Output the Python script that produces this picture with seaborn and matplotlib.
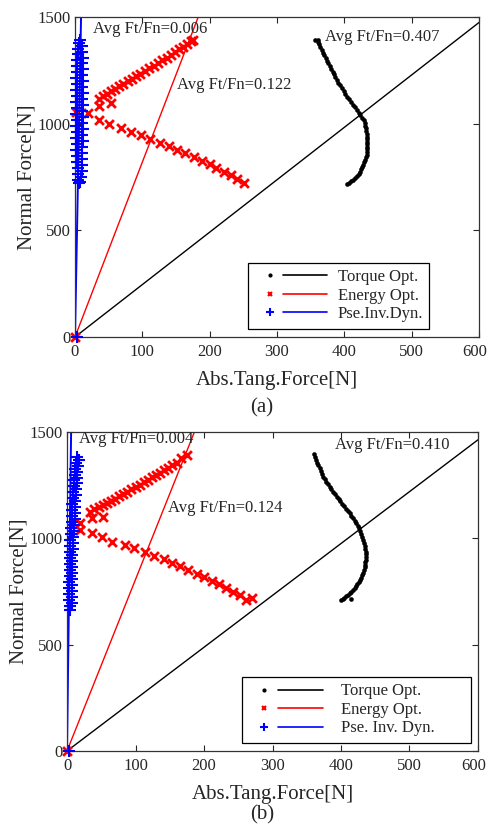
import matplotlib
matplotlib.use("Agg")
import matplotlib.pyplot as plt
import seaborn as sns
import pandas as pd
from matplotlib.legend_handler import HandlerBase
from matplotlib.lines import Line2D
from matplotlib.transforms import ScaledTranslation

# ---------------- data: panel (a) ----------------
torque_a_x = [357, 361, 361, 362.5, 364.5, 366.5, 368.5, 370.5, 372.5, 374.5, 376.4,
              378.5, 380.5, 382.5, 384.5, 386.7, 388.8, 391.3, 393.8, 396.3, 398.8,
              401.2, 403.7, 406.7, 409.7, 412.7, 415.6, 418.6, 421.3, 423.8, 426.2,
              428.5, 430, 431.2, 432, 432.7, 433.1, 433.4, 433.8, 434.2, 434.4, 434.4,
              434.2, 433.7, 433, 432, 431, 429.8, 428.3, 426.6, 425, 423.5, 421.3,
              418.9, 416.3, 413.6, 410.6, 407.6, 404.7]
torque_a_y = [1390, 1393, 1384, 1372, 1358, 1345, 1333, 1320, 1308, 1296, 1283,
              1270, 1257, 1244, 1231, 1218, 1205, 1192, 1179, 1166, 1153,
              1140, 1127, 1114, 1102, 1089, 1076, 1064, 1052, 1040, 1028,
              1017, 1004, 991, 978, 965, 952, 939, 927, 915, 903, 892,
              880, 867, 855, 842, 830, 819, 808, 797, 786, 775, 765,
              755, 745, 736, 729, 722, 717]

energy_a_x = [0, 36, 42, 48, 54, 60, 66, 72, 78, 85, 91, 97, 104, 110, 117, 123, 129,
              136, 142, 148, 154, 160, 166, 172, 175,
              1, 20, 36, 54,
              35, 51, 68, 83, 98, 112, 126, 139, 151, 164, 176, 188, 200, 210,
              221, 231, 241, 251]
energy_a_y = [0, 1116, 1129, 1141, 1152, 1163, 1175, 1186, 1198, 1210, 1222, 1234, 1247,
              1259, 1272, 1284, 1297, 1310, 1323, 1336, 1349, 1361, 1373, 1386, 1392,
              1054, 1052, 1082, 1097,
              1017, 999, 981, 962, 947, 927, 911, 895, 877, 861, 845, 827, 811, 794,
              775, 759, 741, 723]

pse_a_x = [3, 8, 6, 10, 5, 11, 4, 12, 3, 11, 3, 12, 3, 11, 2, 12, 3, 11, 2, 12, 3,
           11, 2, 12, 3, 11, 2, 12, 3, 11, 2, 12, 3, 11, 2, 12, 3, 11, 2, 11, 3,
           11, 3, 10, 4, 10, 4, 9, 5, 8, 6]
pse_a_y = [0, 1392, 1379, 1366, 1352, 1338, 1325, 1310, 1297, 1283, 1268, 1255, 1241,
           1226, 1212, 1199, 1184, 1170, 1157, 1142, 1128, 1114, 1100, 1086, 1072,
           1058, 1044, 1030, 1016, 1002, 988, 974, 960, 946, 932, 918, 904, 890,
           876, 862, 848, 834, 820, 806, 792, 778, 764, 750, 736, 727, 720]

ratio_a = {"torque": 0.407, "energy": 0.122, "pse": 0.006}

# ---------------- data: panel (b) ----------------
torque_b_x = [360.5, 362, 363.7, 365.4, 367, 368.8, 370.5, 372.2, 374,
              376.3, 378.7, 381.1, 383.5, 386, 388.5, 391, 393.6,
              396.4, 399.1, 401.9, 404.7, 407.5, 410.2, 413,
              415.3, 417.6, 419.9, 422.1, 424.4, 426.6,
              428, 429.5, 430.9, 432.4, 433.8,
              434.6, 435.4, 436, 436.3, 436.3,
              436, 435.6, 435, 434.5, 433.8,
              432.5, 431.3, 429.3, 427.6,
              425.7, 423.9, 422, 420,
              417.6, 415.3, 412.9, 410.5,
              407.7, 405, 402.2, 399.4, 414]
torque_b_y = [1396, 1383, 1370, 1356, 1343, 1330, 1316, 1303, 1290,
              1278, 1267, 1255, 1243, 1231, 1220, 1208, 1196,
              1185, 1174, 1163, 1151, 1140, 1129, 1118,
              1106, 1094, 1083, 1071, 1059, 1047,
              1033, 1019, 1004, 990, 976,
              963, 950, 938, 925, 913,
              900, 888, 876, 864, 851,
              839, 827, 815, 804,
              794, 784, 775, 765,
              757, 749, 741, 733,
              727, 721, 716, 710, 715]

energy_b_x = [0, 34, 40, 46, 52, 58, 64, 70, 76, 82, 88, 94, 100, 106, 112, 118, 124,
              130, 136, 142, 148, 154, 160, 167, 175,
              19, 19, 36, 53,
              36, 51, 66, 84, 98, 114, 127, 141, 153, 165, 177, 190, 200, 211,
              222, 232, 242, 252, 261, 270]
energy_b_y = [0, 1125, 1136, 1146, 1156, 1166, 1176, 1187, 1198, 1209, 1220, 1231,
              1242, 1253, 1265, 1276, 1287, 1298, 1309, 1321, 1332, 1343, 1355, 1376,
              1392,
              1070, 1039, 1094, 1102,
              1024, 1005, 984, 969, 953, 934, 917, 901, 882, 868, 851, 832, 817, 801,
              785, 768, 749, 733, 710, 718]

pse_b_x = [3, 15, 17, 13, 16, 12, 15, 11, 14, 10, 14, 10, 13, 9, 13, 9, 12, 8, 12, 8,
           11, 7, 11, 7, 10, 6, 10, 6, 9, 5, 9, 5, 9, 5, 8, 4, 8, 4, 8, 4, 8, 4,
           8, 3, 8, 3, 7, 3, 7, 3, 7, 4, 5]
pse_b_y = [0, 1384, 1370, 1356, 1342, 1328, 1314, 1300, 1286, 1272, 1258, 1244,
           1230, 1216, 1202, 1188, 1174, 1160, 1146, 1132, 1118, 1104, 1090, 1076,
           1062, 1048, 1034, 1020, 1006, 992, 978, 964, 950, 936, 922, 908, 894,
           880, 866, 852, 838, 824, 810, 796, 782, 768, 754, 740, 726, 712, 698,
           684, 663]

ratio_b = {"torque": 0.410, "energy": 0.124, "pse": 0.004}

# annotation anchors (left edge, vertical centre) in data units
notes_a = [(26, 1442, 0.006), (151, 1181, 0.122), (371, 1408, 0.407)]
notes_b = [(18, 1465, 0.004), (148, 1141, 0.124), (391, 1439, 0.410)]

labels_a = ["Torque Opt.", "Energy Opt.", "Pse.Inv.Dyn."]
labels_b = ["Torque Opt.", "Energy Opt.", "Pse. Inv. Dyn."]

x_ticks = [0, 100, 200, 300, 400, 500, 600]
y_ticks = [0, 500, 1000, 1500]

# ---------------- style ----------------
sns.set_style("ticks")
plt.rcParams["font.family"] = ["Liberation Serif", "DejaVu Serif"]
plt.rcParams["xtick.direction"] = "in"
plt.rcParams["ytick.direction"] = "in"
plt.rcParams["xtick.top"] = True
plt.rcParams["ytick.right"] = True


class MarkerThenLine(HandlerBase):
    """Legend key: a lone marker followed by a short line segment."""

    def __init__(self, mfrac, lstart, **kw):
        super().__init__(**kw)
        self.mfrac = mfrac
        self.lstart = lstart

    def create_artists(self, legend, orig_handle, xdescent, ydescent,
                       width, height, fontsize, trans):
        y = (height - ydescent) / 2
        c = orig_handle.get_color()
        mk = Line2D([-xdescent + width * self.mfrac], [y], linestyle="none",
                    marker=orig_handle.get_marker(), color=c,
                    markersize=orig_handle.get_markersize(),
                    markeredgewidth=orig_handle.get_markeredgewidth(),
                    transform=trans)
        ln = Line2D([-xdescent + width * self.lstart, -xdescent + width], [y, y],
                    color=c, linewidth=orig_handle.get_linewidth(), transform=trans)
        return [mk, ln]


def panel(fig, ax, tq, en, ps, ratios, notes, labels, leg_box, handlelen, textpad):
    colors = {"torque": "black", "energy": "red", "pse": "blue"}
    # ratio lines through the origin
    line_x = {"torque": [0, 600], "energy": [0, 1600 * ratios["energy"]],
              "pse": [0, 1600 * ratios["pse"]]}
    for key in ["torque", "energy", "pse"]:
        xs = line_x[key]
        ys = [v / ratios[key] for v in xs]
        sns.lineplot(x=xs, y=ys, color=colors[key], sort=False, estimator=None,
                     linewidth=1.0 if key != "pse" else 1.4, ax=ax, zorder=2)

    df_t = pd.DataFrame({"Ft": tq[0], "Fn": tq[1]})
    df_e = pd.DataFrame({"Ft": en[0], "Fn": en[1]})
    df_p = pd.DataFrame({"Ft": ps[0], "Fn": ps[1]})
    sns.scatterplot(data=df_t, x="Ft", y="Fn", color="black", marker="o", s=11,
                    linewidth=0, ax=ax, clip_on=False, zorder=3, legend=False)
    sns.scatterplot(data=df_e, x="Ft", y="Fn", color="red", marker="x", s=40,
                    linewidth=2.0, ax=ax, clip_on=False, zorder=3, legend=False)
    sns.scatterplot(data=df_p, x="Ft", y="Fn", color="blue", marker="+", s=85,
                    linewidth=1.5, ax=ax, clip_on=False, zorder=3, legend=False)

    for x, y, r in notes:
        ax.text(x, y, f"Avg Ft/Fn={r:.3f}", fontsize=12, ha="left", va="center",
                zorder=4)

    ax.set_xlim(0, 600)
    ax.set_ylim(0, 1500)
    ax.set_xticks(x_ticks)
    ax.set_yticks(y_ticks)
    ax.tick_params(labelsize=12, length=4, width=0.8)
    ax.tick_params(axis="x", pad=5)
    ax.tick_params(axis="y", pad=3)
    for sp in ax.spines.values():
        sp.set_linewidth(0.9)
        sp.set_color("#333333")
    ax.set_xlabel("Abs.Tang.Force[N]", fontsize=15, labelpad=8)
    ax.set_ylabel("Normal Force[N]", fontsize=15, labelpad=0.5)

    # nudge the last x tick label inward so it stays on the canvas
    last = ax.get_xticklabels()[-1]
    last.set_transform(last.get_transform()
                       + ScaledTranslation(-4 / 100, 0, fig.dpi_scale_trans))

    handles = [
        Line2D([], [], color="black", marker="o", markersize=2.0, linewidth=1.2),
        Line2D([], [], color="red", marker="x", markersize=3.5,
               markeredgewidth=1.5, linewidth=1.2),
        Line2D([], [], color="blue", marker="+", markersize=6,
               markeredgewidth=1.5, linewidth=1.2),
    ]
    hmap = {h: MarkerThenLine(0.21, 0.39) for h in handles}
    leg = ax.legend(handles, labels, handler_map=hmap, fontsize=12,
                    loc="lower left", bbox_to_anchor=leg_box, mode="expand",
                    fancybox=False, framealpha=1, edgecolor="black",
                    borderpad=0.4, labelspacing=0.15, handlelength=handlelen,
                    handletextpad=textpad, borderaxespad=0)
    leg.get_frame().set_linewidth(0.9)


fig = plt.figure(figsize=(4.89, 8.26), dpi=100)
ax_a = fig.add_axes([75 / 489, 1 - 337 / 826, 404 / 489, 320 / 826])
ax_b = fig.add_axes([67 / 489, 1 - 751 / 826, 411 / 489, 319 / 826])

panel(fig, ax_a, (torque_a_x, torque_a_y), (energy_a_x, energy_a_y),
      (pse_a_x, pse_a_y), ratio_a, notes_a, labels_a,
      (0.428, 0.025, 0.448, 0.2), 4.33, 0.66)
panel(fig, ax_b, (torque_b_x, torque_b_y), (energy_b_x, energy_b_y),
      (pse_b_x, pse_b_y), ratio_b, notes_b, labels_b,
      (0.426, 0.025, 0.557, 0.2), 4.45, 1.1)

fig.text(0.536, 1 - 408 / 826, "(a)", fontsize=15, ha="center", va="center")
fig.text(0.536, 1 - 815 / 826, "(b)", fontsize=15, ha="center", va="center")

fig.savefig("out.png", dpi=100)
